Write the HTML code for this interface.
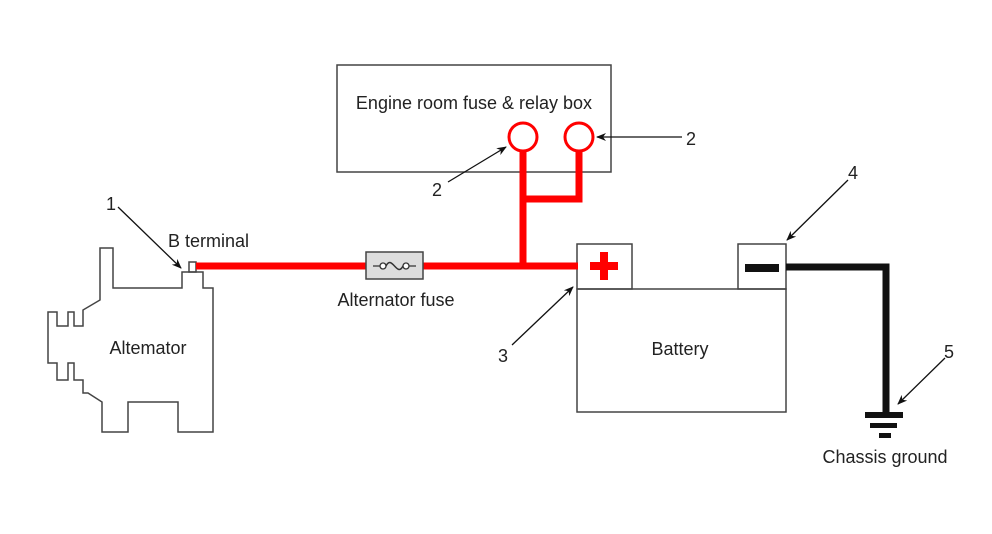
<!DOCTYPE html>
<html><head><style>html,body{margin:0;padding:0;background:#fff}svg{display:block}text{font-family:"Liberation Sans",Arial,sans-serif;fill:#222}</style></head>
<body>
<svg width="992" height="534" viewBox="0 0 992 534" xmlns="http://www.w3.org/2000/svg">
<defs><marker id="a" markerWidth="10" markerHeight="8" refX="9" refY="4" orient="auto" markerUnits="userSpaceOnUse"><path d="M0,0 L10,4 L0,8 L3,4 Z" fill="#111"/></marker></defs>
<g fill="none" stroke="#444" stroke-width="1.5">
<path d="M100,248 L113,248 L113,288 L182,288 L182,272 L203,272 L203,288 L213,288 L213,432 L178,432 L178,402 L128,402 L128,432 L102,432 L102,402 L88,393 L83,393 L83,380 L74,380 L74,363 L68,363 L68,380 L57,380 L57,363 L48,363 L48,312 L57,312 L57,326 L68,326 L68,312 L74,312 L74,326 L83,326 L83,310 L100,300 Z"/>
<rect x="189" y="262" width="7" height="10"/>
<rect x="337" y="65" width="274" height="107"/>
<rect x="577" y="289" width="209" height="123"/>
<rect x="577" y="244" width="55" height="45"/>
<rect x="738" y="244" width="48" height="45"/>
</g>
<g stroke="#f00" stroke-width="7" fill="none">
<path d="M196,266 L578,266"/>
<path d="M523,266 L523,150 M523,199 L579,199 L579,150"/>
</g>
<circle cx="523" cy="137" r="14" fill="#fff" stroke="#f00" stroke-width="3"/>
<circle cx="579" cy="137" r="14" fill="#fff" stroke="#f00" stroke-width="3"/>
<rect x="366" y="252" width="57" height="27" fill="#ddd" stroke="#444" stroke-width="1.5"/>
<path d="M373,266 L380,266 M409,266 L416,266" stroke="#333" stroke-width="1.3"/>
<circle cx="383" cy="266" r="3" fill="#fff" stroke="#333" stroke-width="1.3"/>
<circle cx="406" cy="266" r="3" fill="#fff" stroke="#333" stroke-width="1.3"/>
<path d="M386,266 C392,254 397,278 403,266" fill="none" stroke="#333" stroke-width="1.5"/>
<path d="M590,266 L618,266 M604,252 L604,280" stroke="#f00" stroke-width="8"/>
<path d="M745,268 L779,268" stroke="#111" stroke-width="8"/>
<path d="M786,267 L886,267 L886,412" stroke="#111" stroke-width="7" fill="none"/>
<rect x="865" y="412" width="38" height="6" fill="#111"/>
<rect x="870" y="423" width="27" height="5" fill="#111"/>
<rect x="879" y="433" width="12" height="5" fill="#111"/>
<g stroke="#111" stroke-width="1.3" marker-end="url(#a)">
<line x1="118" y1="207" x2="181" y2="268"/>
<line x1="448" y1="182" x2="506" y2="147"/>
<line x1="682" y1="137" x2="597" y2="137"/>
<line x1="512" y1="345" x2="573" y2="287"/>
<line x1="848" y1="180" x2="787" y2="240"/>
<line x1="945" y1="358" x2="898" y2="404"/>
</g>
<g font-size="18">
<text x="106" y="210">1</text>
<text x="432" y="196">2</text>
<text x="686" y="145">2</text>
<text x="498" y="362">3</text>
<text x="848" y="179">4</text>
<text x="944" y="358">5</text>
<text x="168" y="247">B terminal</text>
<text x="474" y="109" text-anchor="middle">Engine room fuse &amp; relay box</text>
<text x="396" y="306" text-anchor="middle">Alternator fuse</text>
<text x="148" y="354" text-anchor="middle">Altemator</text>
<text x="680" y="355" text-anchor="middle">Battery</text>
<text x="885" y="463" text-anchor="middle">Chassis ground</text>
</g>
</svg>
</body></html>
